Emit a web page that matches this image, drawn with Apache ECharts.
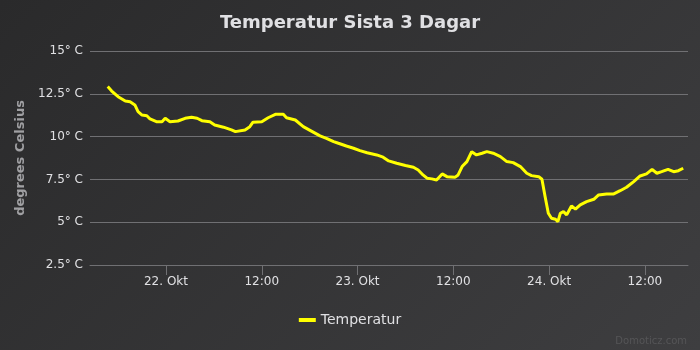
<!DOCTYPE html>
<html>
<head>
<meta charset="utf-8">
<script src="https://cdn.jsdelivr.net/npm/echarts@6/dist/echarts.min.js"></script>
<style>
  html, body { margin: 0; padding: 0; }
  #chart { width: 700px; height: 350px; background: linear-gradient(135deg, #2a2a2b 0%, #3e3e40 100%); }
</style>
</head>
<body>
<div id="chart"></div>
<script>
// hours counted from 22. Okt 00:00
const hours = [
    -7.3, -6.8, -6.0, -5.1, -4.5, -3.9, -3.5, -3.0, -2.4, -2.0, -1.2, -0.5, -0.1, 0.5, 1.5, 2.4,
    3.2, 3.9, 4.5, 5.5, 6.1, 7.2, 8.2, 8.7, 9.9, 10.5, 10.9, 12.0, 12.8, 13.7, 14.7, 15.1,
    16.2, 17.2, 18.1, 19.3, 20.1, 21.0, 21.6, 22.6, 23.5, 24.3, 25.2, 26.4, 27.2, 27.9,
    28.9, 30.0, 31.0, 31.6, 32.2, 32.7, 33.3, 33.9, 34.6, 35.2, 36.2, 36.6, 37.1, 37.7,
    38.3, 38.9, 39.6, 40.2, 41.0, 41.9, 42.7, 43.5, 44.4, 45.2, 45.8, 46.7, 47.1, 47.5,
    47.9, 48.3, 48.8, 49.1, 49.4, 49.8, 50.2, 50.8, 51.3, 51.9, 52.7, 53.6, 54.2, 55.2,
    56.1, 56.9, 57.7, 58.6, 59.4, 60.2, 60.9, 61.5, 62.1, 62.9, 63.6, 64.2, 64.8
];
const temps = [
    12.92, 12.66, 12.33, 12.08, 12.04, 11.85, 11.46, 11.26, 11.22, 11.03, 10.87, 10.87, 11.07, 10.87, 10.91, 11.07,
    11.13, 11.07, 10.93, 10.87, 10.68, 10.55, 10.39, 10.29, 10.39, 10.58, 10.84, 10.87, 11.10, 11.30, 11.30, 11.10,
    10.97, 10.58, 10.35, 10.04, 9.90, 9.71, 9.61, 9.45, 9.32, 9.18, 9.06, 8.93, 8.80, 8.58,
    8.44, 8.31, 8.21, 8.05, 7.76, 7.57, 7.53, 7.47, 7.82, 7.66, 7.62, 7.76, 8.25, 8.54,
    9.12, 8.93, 9.03, 9.12, 9.03, 8.83, 8.54, 8.48, 8.25, 7.86, 7.72, 7.66, 7.51, 6.49,
    5.52, 5.23, 5.17, 5.03, 5.52, 5.62, 5.43, 5.95, 5.76, 6.01, 6.20, 6.34, 6.59, 6.65,
    6.65, 6.84, 7.04, 7.37, 7.70, 7.82, 8.09, 7.86, 7.95, 8.09, 7.95, 8.01, 8.15
];
// x tick positions (hours from 22. Okt 00:00) and their labels
const tickHours = [0, 12, 24, 36, 48, 60];
const tickLabels = ['22. Okt', '12:00', '23. Okt', '12:00', '24. Okt', '12:00'];
const yTicks = [2.5, 5, 7.5, 10, 12.5, 15];

const seriesData = hours.map((h, i) => [h, temps[i]]);

const chart = echarts.init(document.getElementById('chart'), null, { renderer: 'canvas' });
const labelFont = 'DejaVu Sans';

chart.setOption({
    backgroundColor: 'transparent',
    animation: false,
    title: {
        text: 'Temperatur Sista 3 Dagar',
        left: 'center', top: 9,
        textStyle: { color: '#e0e0e3', fontSize: 18, fontWeight: 'bold', fontFamily: labelFont }
    },
    legend: {
        data: ['Temperatur'],
        bottom: 18, left: 'center',
        icon: 'rect', itemWidth: 17, itemHeight: 4, itemGap: 6,
        textStyle: { color: '#e0e0e3', fontSize: 14, fontFamily: labelFont }
    },
    graphic: [{
        type: 'text', right: 13, bottom: 4,
        style: { text: 'Domoticz.com', fill: '#555557', fontSize: 10, fontFamily: labelFont }
    }],
    grid: { left: 90, right: 12, top: 51, bottom: 85 },
    xAxis: {
        type: 'value',
        min: -9.52,
        max: 65.4,
        axisLine: { show: true, onZero: false, lineStyle: { color: '#707073', width: 1 } },
        axisTick: { show: true, length: 10, customValues: tickHours, lineStyle: { color: '#707073' } },
        splitLine: { show: false },
        axisLabel: {
            color: '#e0e0e3', fontSize: 12, fontFamily: labelFont, margin: 11,
            customValues: tickHours,
            formatter: v => tickLabels[tickHours.indexOf(v)] || ''
        }
    },
    yAxis: {
        type: 'value',
        min: yTicks[0], max: yTicks[yTicks.length - 1], interval: 2.5,
        name: 'degrees Celsius',
        nameLocation: 'middle', nameGap: 61, nameRotate: 90,
        nameTextStyle: { color: '#a0a0a3', fontSize: 13, fontWeight: 'bold', fontFamily: labelFont },
        axisLine: { show: false },
        axisTick: { show: false },
        splitLine: { lineStyle: { color: '#707073', width: 1 } },
        axisLabel: {
            color: '#e0e0e3', fontSize: 12, fontFamily: labelFont, margin: 7,
            formatter: v => v + '° C'
        }
    },
    series: [{
        name: 'Temperatur',
        type: 'line',
        data: seriesData,
        showSymbol: false,
        color: '#ffff00',
        lineStyle: { color: '#ffff00', width: 3 }
    }]
});
</script>
</body>
</html>
